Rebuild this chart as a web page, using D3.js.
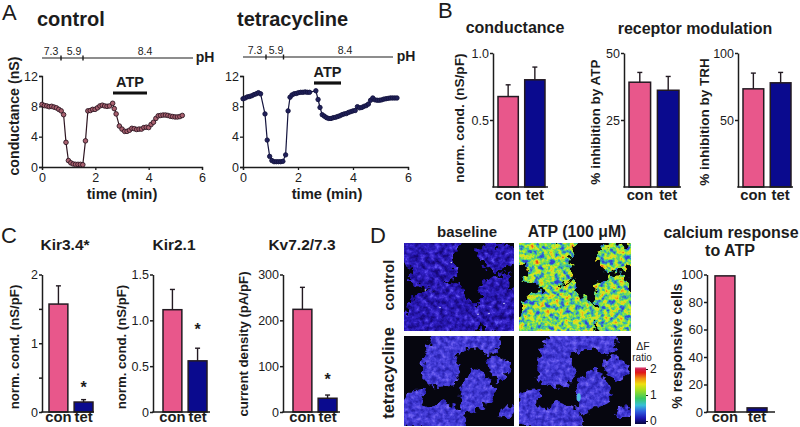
<!DOCTYPE html>
<html><head><meta charset="utf-8">
<style>
html,body{margin:0;padding:0;background:#fff}
svg{display:block}
text{font-family:"Liberation Sans",Arial,sans-serif;fill:#1c1c1c}
.b{font-weight:700}
</style>
<script src="https://cdn.jsdelivr.net/npm/d3@7"></script>
</head><body><svg id="c" width="800" height="427"></svg>
<script>
// ---------- data ----------
const categories = ["con","tet"];
const controlTime = [0,.09,.18,.27,.36,.45,.54,.63,.72,.81,.9,.99,1.08,1.17,1.26,1.35,1.44,1.53,1.63,1.72,1.81,1.9,1.99,2.08,2.17,2.26,2.35,2.44,2.53,2.65,2.71,2.78,2.9,3.0,3.1,3.19,3.28,3.37,3.46,3.55,3.64,3.73,3.82,3.91,4.0,4.09,4.18,4.27,4.36,4.45,4.54,4.63,4.72,4.81,4.9,4.99,5.08,5.17,5.26];
const controlCond = [8.25,8.1,8.05,7.95,8.0,7.9,7.8,7.6,7.4,6.9,3.25,.85,.55,.4,.35,.35,.35,.3,3.45,7.4,7.45,7.6,7.6,7.8,8.05,8.15,8.05,8.0,8.05,8.4,7.7,7.0,5.4,5.0,4.7,4.7,4.85,5.1,5.05,4.95,5.0,5.0,5.2,5.25,5.2,5.6,5.9,6.4,6.75,6.8,6.85,6.85,6.8,6.7,6.65,6.6,6.6,6.65,6.8];
const tetTime = [0,.08,.16,.24,.32,.4,.48,.56,.64,.8,.88,.97,1.05,1.13,1.21,1.29,1.37,1.45,1.55,1.64,1.71,1.78,1.86,1.94,2.02,2.1,2.18,2.26,2.34,2.42,2.65,2.73,2.8,2.88,2.96,3.04,3.12,3.2,3.28,3.36,3.44,3.52,3.6,3.68,3.76,3.84,3.92,4.0,4.08,4.16,4.24,4.32,4.4,4.48,4.56,4.64,4.72,4.8,4.88,4.96,5.04,5.12,5.2,5.28,5.36,5.44,5.52,5.6];
const tetCond = [9.0,9.1,9.25,9.3,9.4,9.55,9.65,9.8,9.65,7.0,3.55,1.4,.85,.7,.7,.7,.7,.75,1.6,7.4,9.2,9.5,9.65,9.7,9.8,9.85,9.85,9.9,9.85,9.85,10.05,8.9,7.85,6.9,6.7,6.5,6.4,6.4,6.5,6.55,6.65,6.75,6.9,7.0,7.05,7.2,7.3,7.4,7.45,7.95,7.8,7.85,8.0,8.1,8.3,8.8,9.1,8.85,8.8,8.8,8.85,8.95,9.0,9.05,9.1,9.1,9.1,9.1];
const timeTicks = [0,2,4,6];
const condTicks = [0,4,8,12];
const phLabels = ["7.3","5.9","8.4"];

const normCondValues = [.675,.8], normCondErrTop = [.7625,.895];
const atpInhibValues = [39.1,36.1], atpInhibErrTop = [42.75,41.25];
const trhInhibValues = [73.25,77.75], trhInhibErrTop = [85,85.5];
const kir34Values = [1.57,.145], kir34ErrTop = [1.835,.18];
const kir21Values = [1.116,.558], kir21ErrTop = [1.337,.696];
const kv72Values = [224,30], kv72ErrTop = [272,37];
const calciumValues = [99,3];

const colorbarStops = [[0,"#06063c"],[.1,"#1a14b0"],[.22,"#2f5fe0"],[.33,"#38c0d8"],[.45,"#38c860"],[.6,"#a8e020"],[.7,"#f0e010"],[.8,"#f09010"],[.9,"#e01818"],[.97,"#d02050"],[1,"#f8c0d8"]];

// Cell clusters of the micrographs, in units of the image (0-330 wide, 0-262 / 0-270 tall)
const controlClusters = [
 [[-12,-12],[168,-12],[150,40],[158,108],[125,120],[92,140],[44,124],[10,112],[32,70],[-12,60]],
 [[-12,275],[-4,222],[16,168],[55,142],[118,126],[164,116],[180,155],[226,190],[232,228],[210,275]],
 [[222,26],[258,0],[344,10],[344,60],[302,80],[256,84],[228,46]],
 [[222,132],[262,102],[320,90],[314,130],[344,150],[344,275],[232,275],[226,184]]
];
const tetClusters = [
 [[94,-12],[296,-12],[284,40],[254,62],[228,36],[180,42],[152,60],[172,110],[142,150],[86,154],[52,122],[58,58],[74,20]],
 [[250,76],[278,58],[324,88],[318,116],[284,136],[254,106]],
 [[211,98],[240,108],[274,162],[264,198],[222,218],[180,240],[168,206],[174,136]],
 [[-12,228],[8,166],[66,158],[50,206],[78,220],[112,194],[172,220],[188,248],[184,282],[66,282],[14,268],[-12,272]],
 [[294,212],[332,210],[328,242],[286,244]]
];
const specks = [[64,140],[108,192],[222,212],[142,58],[300,180],[255,210]];

// ---------- helpers ----------
const svg = d3.select("#c");
const defs = svg.append("defs");
const txt = (t,x,y,size,o={}) => {
  const e = svg.append("text").attr("x",x).attr("y",y).attr("font-size",size).text(t)
    .attr("text-anchor",o.anchor||"middle");
  if(o.bold!==false) e.attr("class","b");
  if(o.rot) e.attr("transform",`rotate(-90 ${x} ${y})`);
  return e;
};
function styleAxis(g,fs,w){
  g.selectAll("path").attr("stroke","#1c1c1c").attr("stroke-width",w).attr("fill","none");
  g.selectAll("line").attr("stroke","#1c1c1c").attr("stroke-width",w);
  g.selectAll("text").attr("font-size",fs).attr("fill","#1c1c1c");
}

// ---------- line panels ----------
function tracePanel(o){
  const x = d3.scaleLinear().domain([0,6]).range([o.x0,o.x1]);
  const y = d3.scaleLinear().domain([0,12]).range([167,76]);
  const gx = svg.append("g").attr("transform","translate(0,167)")
    .call(d3.axisBottom(x).tickValues(timeTicks).tickSize(3).tickPadding(3).tickFormat(d3.format("d")));
  styleAxis(gx,12.5,1.3);
  const gy = svg.append("g").attr("transform",`translate(${o.x0},0)`)
    .call(d3.axisLeft(y).tickValues(condTicks).tickSize(3).tickPadding(1).tickFormat(d3.format("d")));
  styleAxis(gy,12.5,1.3);
  const pts = o.t.map((d,i)=>[d,o.v[i]]);
  svg.append("path").datum(pts).attr("fill","none").attr("stroke",o.line).attr("stroke-width",1.2)
    .attr("d",d3.line().x(d=>x(d[0])).y(d=>y(d[1])));
  svg.append("g").selectAll("circle").data(pts).join("circle")
    .attr("cx",d=>x(d[0])).attr("cy",d=>y(d[1])).attr("r",o.r)
    .attr("fill",o.fill).attr("stroke",o.line).attr("stroke-width",.9);
  svg.append("line").attr("x1",o.x0).attr("x2",o.phEnd).attr("y1",o.phY).attr("y2",o.phY).attr("stroke","#1c1c1c").attr("stroke-width",1.2);
  o.phTicks.forEach(t=>svg.append("line").attr("x1",t).attr("x2",t).attr("y1",o.phY-2.5).attr("y2",o.phY+2.5).attr("stroke","#1c1c1c").attr("stroke-width",1.4));
  phLabels.forEach((l,i)=>txt(l,o.phLab[i],o.phY-3,10.5,{bold:false}));
  txt("pH",o.phX,o.phY+4,14);
  svg.append("line").attr("x1",o.atp[0]).attr("x2",o.atp[1]).attr("y1",o.atpY).attr("y2",o.atpY).attr("stroke","#111").attr("stroke-width",3.2);
  txt("ATP",(o.atp[0]+o.atp[1])/2,o.atpY-6,14.5);
  txt("time (min)",o.tlab,199,14.8);
}
tracePanel({x0:42,x1:202,t:controlTime,v:controlCond,line:"#2e1622",fill:"#a8606e",r:2.3,
  phY:58,phEnd:193,phTicks:[61,83],phLab:[51,74,145],phX:205,atp:[113,147],atpY:93,tlab:122});
tracePanel({x0:243,x1:408,t:tetTime,v:tetCond,line:"#14143e",fill:"#20205a",r:2.2,
  phY:57,phEnd:393,phTicks:[266,283.5],phLab:[255,276,345],phX:406,atp:[314,341],atpY:83,tlab:327});

txt("A",2,20,22,{anchor:"start",bold:false});
txt("control",37,26,20,{anchor:"start"});
txt("tetracycline",237,26,20,{anchor:"start"});
txt("conductance (nS)",19,116,14.2,{rot:true});

// ---------- bar panels ----------
function barPanel(o){
  const x = d3.scaleBand().domain(categories).range(o.bars).paddingInner(o.gap);
  const y = d3.scaleLinear().domain(o.domain).range([o.bottom,o.top]);
  svg.append("g").selectAll("rect").data(o.values).join("rect")
    .attr("x",(d,i)=>x(categories[i])).attr("y",d=>y(d)).attr("width",x.bandwidth()).attr("height",d=>o.bottom-y(d))
    .attr("fill",(d,i)=>i?"#0a0a8e":"#e8578b").attr("stroke","#231a22").attr("stroke-width",1.5);
  if(o.err) o.err.forEach((e,i)=>{
    const cx=x(categories[i])+x.bandwidth()/2;
    svg.append("line").attr("x1",cx).attr("x2",cx).attr("y1",y(o.values[i])).attr("y2",y(e)).attr("stroke","#231a22").attr("stroke-width",1.4);
    svg.append("line").attr("x1",cx-2.5).attr("x2",cx+2.5).attr("y1",y(e)).attr("y2",y(e)).attr("stroke","#231a22").attr("stroke-width",1.4);
  });
  const gy = svg.append("g").attr("transform",`translate(${o.ax},0)`)
    .call(d3.axisLeft(y).tickValues(o.ticks).tickSize(3).tickSizeOuter(0).tickPadding(1).tickFormat(o.fmt));
  styleAxis(gy,o.fs||12.5,1.5);
  const gx = svg.append("g").attr("transform",`translate(0,${o.bottom})`)
    .call(d3.axisBottom(x).tickSize(0).tickPadding(o.pad));
  gx.select("path").remove();
  gx.selectAll("text").attr("font-size",14.8).attr("font-weight",700).attr("fill","#1c1c1c");
  svg.append("line").attr("x1",o.ax-.7).attr("x2",o.end).attr("y1",o.bottom).attr("y2",o.bottom).attr("stroke","#1c1c1c").attr("stroke-width",1.5);
  txt(o.ylab,o.labX,o.labY,o.labFs||13,{rot:true});
  if(o.star!==undefined){
    txt("*",x("tet")+x.bandwidth()/2,y(o.star),16);
  }
}
const f1 = d3.format(".1f"), fd = d3.format("d");
const topB=53, botB=187, topC=274.5, botC=412;
barPanel({ax:493,end:548,bars:[498,545],gap:.24,top:topB,bottom:botB,domain:[0,1],values:normCondValues,err:normCondErrTop,ticks:[.5,1],fmt:f1,pad:2,ylab:"norm. cond. (nS/pF)",labX:464,labY:118,labFs:13.7});
barPanel({ax:624,end:681,bars:[629,679],gap:.24,top:topB,bottom:botB,domain:[0,50],values:atpInhibValues,err:atpInhibErrTop,ticks:[25,50],fmt:fd,pad:2,ylab:"% inhibition by ATP",labX:600,labY:122,labFs:13.5});
barPanel({ax:738,end:793,bars:[743,791],gap:.24,top:topB,bottom:botB,domain:[0,100],values:trhInhibValues,err:trhInhibErrTop,ticks:[50,100],fmt:fd,pad:2,ylab:"% inhibition by TRH",labX:709,labY:122,labFs:13.5});
txt("B",438,18,22,{anchor:"start",bold:false});
txt("conductance",515,33,16);
txt("receptor modulation",695,34,16);

barPanel({ax:42,end:94,bars:[49,93],gap:.25,top:topC,bottom:botC,domain:[0,2],values:kir34Values,err:kir34ErrTop,ticks:[0,.5,1,1.5,2],fmt:d=>Number.isInteger(d)?d:"",pad:-1,ylab:"norm. cond. (nS/pF)",labX:19,labY:347,labFs:13.2,star:.27});
barPanel({ax:153,end:210,bars:[163,207],gap:.25,top:topC,bottom:botC,domain:[0,1.5],values:kir21Values,err:kir21ErrTop,ticks:[0,.5,1,1.5],fmt:d=>d?f1(d):"0",pad:-1,ylab:"norm. cond. (nS/pF)",labX:126,labY:347,labFs:13.2,star:.84});
barPanel({ax:283,end:340,bars:[293,337],gap:.25,top:topC,bottom:botC,domain:[0,300],values:kv72Values,err:kv72ErrTop,ticks:[0,100,200,300],fmt:fd,pad:-1,ylab:"current density (pA/pF)",labX:248,labY:344,labFs:13.2,star:60});
txt("C",1,243,22,{anchor:"start",bold:false});
txt("Kir3.4*",65,250,15.5);
txt("Kir2.1",174,250,15.5);
txt("Kv7.2/7.3",302,250,15.5);

barPanel({ax:707,end:775,bars:[715,767],gap:.38,top:topC,bottom:botC,domain:[0,100],values:calciumValues,ticks:[0,20,40,60,80,100],fmt:fd,pad:-1,ylab:"% responsive cells",labX:682,labY:346,labFs:14,fs:13});
txt("calcium response",731,238,16);
txt("to ATP",730,256,16);

// ---------- micrographs ----------
function makeFilter(id,seed,R,G,B,freq,disp){
  const f = defs.append("filter").attr("id",id).attr("x","-5%").attr("y","-5%").attr("width","110%").attr("height","110%")
    .attr("color-interpolation-filters","sRGB");
  f.append("feTurbulence").attr("type","fractalNoise").attr("baseFrequency",.17).attr("numOctaves",2).attr("seed",seed).attr("result","edge");
  f.append("feDisplacementMap").attr("in","SourceGraphic").attr("in2","edge").attr("scale",disp).attr("xChannelSelector","R").attr("yChannelSelector","G").attr("result","shape");
  f.append("feTurbulence").attr("type","fractalNoise").attr("baseFrequency",freq).attr("numOctaves",3).attr("seed",seed+3).attr("result","n");
  f.append("feColorMatrix").attr("in","n").attr("type","matrix").attr("values","1 0 0 0 0  1 0 0 0 0  1 0 0 0 0  0 0 0 0 1").attr("result","gray");
  const ct = f.append("feComponentTransfer").attr("in","gray").attr("result","col");
  ct.append("feFuncR").attr("type","table").attr("tableValues",R.join(" "));
  ct.append("feFuncG").attr("type","table").attr("tableValues",G.join(" "));
  ct.append("feFuncB").attr("type","table").attr("tableValues",B.join(" "));
  f.append("feComposite").attr("in","col").attr("in2","shape").attr("operator","in");
}
makeFilter("blueDark",4,[.08,.08,.08,.1,.13,.16,.2,.28,.35,.4,.4],[.03,.03,.03,.04,.07,.1,.13,.2,.3,.35,.35],[.45,.45,.45,.52,.62,.7,.78,.85,.95,.95,.95],.2,16);
makeFilter("blueTet",9,[.16,.16,.16,.18,.22,.26,.31,.38,.45,.5,.5],[.13,.13,.13,.15,.19,.23,.27,.33,.4,.45,.45],[.68,.68,.68,.72,.78,.84,.88,.92,.95,.95,.95],.22,11);
makeFilter("jet",4,[.2,.2,.2,.2,.22,.45,.78,.9,.95,.9,.9],[.25,.25,.25,.4,.72,.88,.92,.85,.5,.2,.2],[.85,.85,.85,.8,.68,.32,.15,.12,.1,.1,.1],.2,16);

function micro(px,py,w,h,clusters,filter,srcW,srcH,extra){
  const x = d3.scaleLinear().domain([0,srcW]).range([px,px+w]);
  const y = d3.scaleLinear().domain([0,srcH]).range([py,py+h]);
  const clip = "clip"+px+"_"+py;
  defs.append("clipPath").attr("id",clip).append("rect").attr("x",px).attr("y",py).attr("width",w).attr("height",h);
  const g = svg.append("g").attr("clip-path",`url(#${clip})`);
  g.append("rect").attr("x",px).attr("y",py).attr("width",w).attr("height",h).attr("fill","#06060f");
  const line = d3.line().x(d=>x(d[0])).y(d=>y(d[1])).curve(d3.curveLinearClosed);
  g.append("g").attr("filter",`url(#${filter})`).selectAll("path").data(clusters).join("path").attr("d",line).attr("fill","#fff");
  if(extra) extra(g,x,y);
}
micro(404,243,110,88,controlClusters,"blueDark",330,262,(g,x,y)=>{
  g.selectAll("circle").data(specks).join("circle").attr("cx",d=>x(d[0])).attr("cy",d=>y(d[1])).attr("r",.8).attr("fill","#d8d8ff");
});
micro(519,243,112,88,controlClusters,"jet",330,262);
micro(404,336,110,90,tetClusters,"blueTet",330,270);
micro(519,336,112,90,tetClusters,"blueTet",330,270,(g,x,y)=>{
  g.append("ellipse").attr("cx",x(176)).attr("cy",y(184)).attr("rx",2).attr("ry",4).attr("fill","#4fc0e0");
});

txt("baseline",467,237,15);
txt("ATP (100 μM)",577,237,15.8);
txt("control",394,285,15,{rot:true});
txt("tetracycline",394,373,16.5,{rot:true});
txt("D",370,243,22,{anchor:"start",bold:false});

// ---------- colour bar ----------
const grad = defs.append("linearGradient").attr("id","cb").attr("x1",0).attr("x2",0).attr("y1",1).attr("y2",0);
colorbarStops.forEach(s=>grad.append("stop").attr("offset",s[0]).attr("stop-color",s[1]));
svg.append("rect").attr("x",635).attr("y",367).attr("width",11).attr("height",57).attr("fill","url(#cb)");
const cbScale = d3.scaleLinear().domain([0,2]).range([421,369]);
const gcb = svg.append("g").attr("transform","translate(646,0)")
  .call(d3.axisRight(cbScale).tickValues([0,1,2]).tickSize(2).tickSizeOuter(0).tickPadding(2).tickFormat(fd));
gcb.select("path").remove();
styleAxis(gcb,12,1);
txt("ΔF",643,350,10.5,{bold:false});
txt("ratio",642,361,10,{bold:false});
</script></body></html>
